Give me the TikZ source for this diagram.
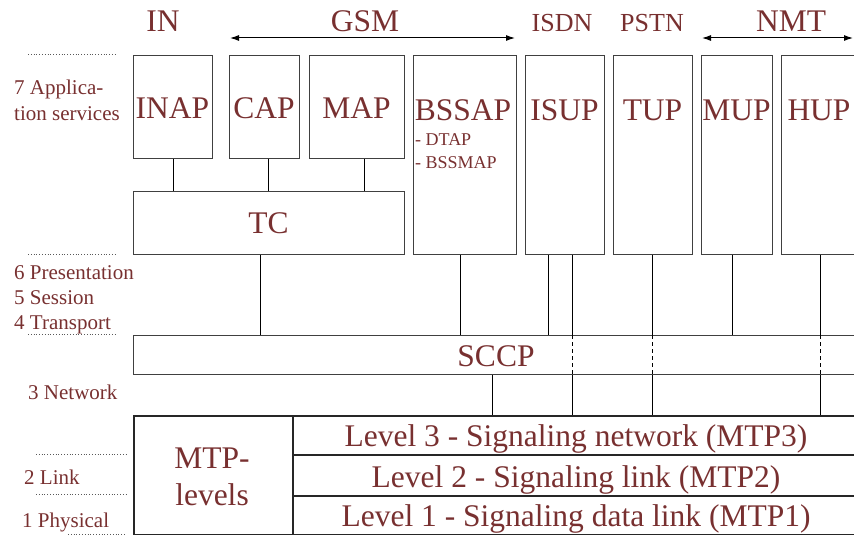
\documentclass[tikz,border=0pt]{standalone}
\usepackage{fontspec}
\setmainfont{Liberation Serif}
\usetikzlibrary{arrows.meta}
\definecolor{txt}{RGB}{120,48,48}
\definecolor{frame}{RGB}{64,64,64}
\begin{document}
\begin{tikzpicture}[x=1pt,y=-1pt,
  box/.style={draw=frame,line width=1.4pt,inner sep=0pt,anchor=north west},
  mtpbox/.style={box,draw=black!85,line width=1.6pt},
  lbl/.style={text=txt,inner sep=0pt,anchor=base},
  big/.style={lbl,font=\fontsize{31.5}{34}\selectfont},
  mid/.style={lbl,font=\fontsize{26}{28}\selectfont},
  small/.style={lbl,anchor=base west,font=\fontsize{18}{20}\selectfont},
  side/.style={lbl,anchor=base west,font=\fontsize{21}{23}\selectfont},
  wire/.style={line width=1pt,black},
  thru/.style={line width=1.1pt,black,dash pattern=on 4pt off 3pt},
  sep/.style={line width=0.8pt,gray!70!black,dotted},
  span/.style={line width=1pt,black,{Latex[length=9pt,width=6pt]}-{Latex[length=9pt,width=6pt]}}]
\clip (0,0) rectangle (854,535);

% --- protocol boxes ---
\node[box,minimum width=79pt,minimum height=103pt] (inap) at (133,55) {};
\node[box,minimum width=70pt,minimum height=103pt] (cap) at (229,55) {};
\node[box,minimum width=95pt,minimum height=103pt] (map) at (309,55) {};
\node[box,minimum width=271pt,minimum height=63pt] (tc) at (133,191) {};
\node[box,minimum width=103pt,minimum height=199pt] (bssap) at (413,55) {};
\node[box,minimum width=79pt,minimum height=199pt] (isup) at (525,55) {};
\node[box,minimum width=79pt,minimum height=199pt] (tup) at (613,55) {};
\node[box,minimum width=71pt,minimum height=199pt] (mup) at (701,55) {};
\node[box,minimum width=79pt,minimum height=199pt] (hup) at (781,55) {};
\node[box,minimum width=727pt,minimum height=39pt] (sccp) at (133,335) {};
\node[mtpbox,minimum width=159pt,minimum height=119pt] (mtp) at (133,415) {};
\node[mtpbox,minimum width=568pt,minimum height=39pt] (l3) at (292,415) {};
\node[mtpbox,minimum width=568pt,minimum height=41pt] (l2) at (292,454) {};
\node[mtpbox,minimum width=568pt,minimum height=39pt] (l1) at (292,495) {};

% --- network families ---
\node[big] (tin) at (163,32) {IN};
\node[big] (tgsm) at (365,32) {GSM};
\node[mid] (tisdn) at (562,32) {ISDN};
\node[mid] (tpstn) at (652,32) {PSTN};
\node[big] (tnmt) at (791,32) {NMT};
\coordinate (gsmL) at (230,38);
\coordinate (gsmR) at (515,38);
\coordinate (nmtL) at (702,38);
\coordinate (nmtR) at (853,38);
\draw[span] (gsmL) -- (gsmR);
\draw[span] (nmtL) -- (nmtR);

% --- box labels ---
\node[big] (tinap) at (172.5,118) {INAP};
\node[big] (tcap) at (264,118) {CAP};
\node[big] (tmap) at (356.5,118) {MAP};
\node[big] (tbssap) at (463,121) {BSSAP};
\node[small] (tdtap) at (415,145) {- DTAP};
\node[small] (tbssmap) at (415,168) {- BSSMAP};
\node[big] (tisup) at (564.5,121) {ISUP};
\node[big] (ttup) at (652.5,121) {TUP};
\node[big] (tmup) at (736.5,121) {MUP};
\node[big] (thup) at (819,121) {HUP};
\node[big] (ttc) at (268.5,233) {TC};
\node[big] (tsccp) at (496,366) {SCCP};
\node[big] (tmtpa) at (212,468) {MTP-};
\node[big] (tmtpb) at (212,505) {levels};
\node[big] (tl3) at (576,446) {Level 3 - Signaling network (MTP3)};
\node[big] (tl2) at (576,487) {Level 2 - Signaling link (MTP2)};
\node[big] (tl1) at (576,526) {Level 1 - Signaling data link (MTP1)};

% --- OSI layers ---
\node[side] (o7a) at (14,95) {7 Applica-};
\node[side] (o7b) at (14,120) {tion services};
\node[side] (o6) at (14,279) {6 Presentation};
\node[side] (o5) at (14,304) {5 Session};
\node[side] (o4) at (14,329) {4 Transport};
\node[side] (o3) at (28,399) {3 Network};
\node[side] (o2) at (24,484) {2 Link};
\node[side] (o1) at (22,527) {1 Physical};
\draw[sep] (28,54) -- (117,54);
\draw[sep] (28,254) -- (117,254);
\draw[sep] (28,334) -- (117,334);
\draw[sep] (36,454) -- (126,454);
\draw[sep] (36,494) -- (126,494);
\draw[sep] (68,534) -- (126,534);

% --- connections ---
\draw[wire] (inap.south) -- (inap.south |- tc.north);
\draw[wire] ([xshift=4pt]cap.south) -- ([xshift=4pt]cap.south |- tc.north);
\draw[wire] ([xshift=7.5pt]map.south) -- ([xshift=7.5pt]map.south |- tc.north);
\draw[wire] ([xshift=-8.5pt]tc.south) -- ([xshift=-8.5pt]tc.south |- sccp.north);
\draw[wire] ([xshift=-4.5pt]bssap.south) -- ([xshift=-4.5pt]bssap.south |- sccp.north);
\draw[wire] ([xshift=-16.5pt]isup.south) -- ([xshift=-16.5pt]isup.south |- sccp.north);
\draw[wire] ([xshift=-4.5pt]mup.south) -- ([xshift=-4.5pt]mup.south |- sccp.north);
\draw[wire] ([xshift=-4pt]sccp.south -| tsccp.base) -- ([xshift=-4pt]tsccp.base |- l3.north);
% links passing through SCCP to MTP level 3
\foreach \n/\dx in {isup/7.5, tup/-0.5, hup/-0.5}{
  \draw[wire] ([xshift=\dx pt]\n.south) -- ([xshift=\dx pt]\n.south |- sccp.north);
  \draw[thru] ([xshift=\dx pt]\n.south |- sccp.north) -- ([xshift=\dx pt]\n.south |- sccp.south);
  \draw[wire] ([xshift=\dx pt]\n.south |- sccp.south) -- ([xshift=\dx pt]\n.south |- l3.north);
}
\end{tikzpicture}
\end{document}
